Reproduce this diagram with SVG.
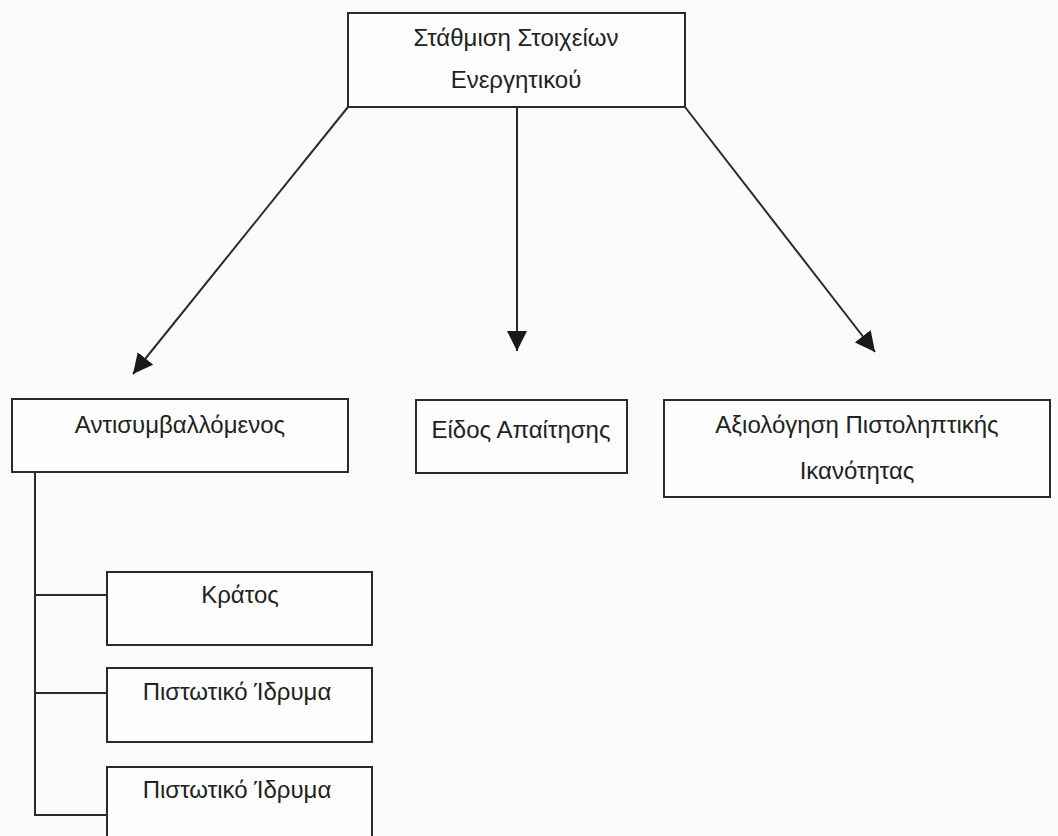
<svg xmlns="http://www.w3.org/2000/svg" width="1058" height="836" viewBox="0 0 1058 836">
<style>
.box{fill:#fdfdfd;stroke:#2a2a2a;stroke-width:2}
.t{font-family:"Liberation Sans",Arial,sans-serif;font-size:24px;fill:#222;text-anchor:middle}
.c{stroke:#2a2a2a;stroke-width:2;fill:none}
</style>
<defs>
<marker id="ah" markerWidth="22" markerHeight="20" refX="20" refY="10" orient="auto" markerUnits="userSpaceOnUse">
<path d="M0,0 L20,10 L0,20 z" fill="#1a1a1a"/>
</marker>
</defs>
<rect width="1058" height="836" fill="#fbfbfb"/>
<g id="connectors">
<line class="c" x1="348" y1="107" x2="133" y2="374" marker-end="url(#ah)"/>
<line class="c" x1="517" y1="107" x2="517" y2="351" marker-end="url(#ah)"/>
<line class="c" x1="685" y1="107" x2="875" y2="352" marker-end="url(#ah)"/>
<polyline class="c" points="35,472 35,815 107,815"/>
<line class="c" x1="35" y1="595" x2="107" y2="595"/>
<line class="c" x1="35" y1="693" x2="107" y2="693"/>
</g>
<g id="root">
<rect class="box" x="348" y="13" width="337" height="94"/>
<text class="t" x="516" y="46">Στάθμιση Στοιχείων</text>
<text class="t" x="516" y="88">Ενεργητικού</text>
</g>
<g id="antisymvallomenos">
<rect class="box" x="12" y="399" width="336" height="73"/>
<text class="t" x="180" y="433">Αντισυμβαλλόμενος</text>
</g>
<g id="eidos">
<rect class="box" x="416" y="400" width="211" height="73"/>
<text class="t" x="521" y="438">Είδος Απαίτησης</text>
</g>
<g id="axiologisi">
<rect class="box" x="664" y="400" width="386" height="97"/>
<text class="t" x="857" y="433">Αξιολόγηση Πιστοληπτικής</text>
<text class="t" x="857" y="479">Ικανότητας</text>
</g>
<g id="kratos">
<rect class="box" x="107" y="572" width="265" height="73"/>
<text class="t" x="240" y="603">Κράτος</text>
</g>
<g id="pistotiko1">
<rect class="box" x="107" y="668" width="265" height="74"/>
<text class="t" x="237" y="700">Πιστωτικό Ίδρυμα</text>
</g>
<g id="pistotiko2">
<rect class="box" x="107" y="767" width="265" height="80"/>
<text class="t" x="237" y="798">Πιστωτικό Ίδρυμα</text>
</g>
</svg>
